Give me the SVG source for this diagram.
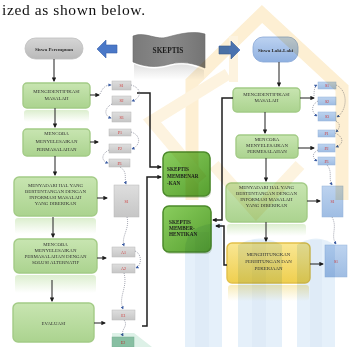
<svg xmlns="http://www.w3.org/2000/svg" width="363" height="347" viewBox="0 0 363 347">
  <defs>
    <linearGradient id="gL" x1="0" y1="0" x2="0" y2="1">
      <stop offset="0" stop-color="#c8e5b1"/>
      <stop offset="1" stop-color="#abd38f"/>
    </linearGradient>
    <linearGradient id="gC" x1="0" y1="0" x2="1" y2="1">
      <stop offset="0" stop-color="#8acd5e"/>
      <stop offset="1" stop-color="#57a030"/>
    </linearGradient>
    <linearGradient id="gY" x1="0" y1="0" x2="0" y2="1">
      <stop offset="0" stop-color="#f9e794"/>
      <stop offset="1" stop-color="#efcf4f"/>
    </linearGradient>
    <linearGradient id="gBs" x1="0" y1="0" x2="0" y2="1">
      <stop offset="0" stop-color="#bdd3ef"/>
      <stop offset="1" stop-color="#9fbde3"/>
    </linearGradient>
    <linearGradient id="gGs" x1="0" y1="0" x2="0" y2="1">
      <stop offset="0" stop-color="#dedede"/>
      <stop offset="1" stop-color="#c6c6c6"/>
    </linearGradient>
    <linearGradient id="gPillG" x1="0" y1="0" x2="0" y2="1">
      <stop offset="0" stop-color="#d6d6d6"/>
      <stop offset="1" stop-color="#b9b9b9"/>
    </linearGradient>
    <linearGradient id="gPillB" x1="0" y1="0" x2="0" y2="1">
      <stop offset="0" stop-color="#bcd2f1"/>
      <stop offset="1" stop-color="#8fb0e0"/>
    </linearGradient>
    <linearGradient id="gFlag" x1="0" y1="0" x2="1" y2="0">
      <stop offset="0" stop-color="#7a7a7a"/>
      <stop offset="0.5" stop-color="#8a8a8a"/>
      <stop offset="1" stop-color="#747474"/>
    </linearGradient>
    <linearGradient id="fadeG" x1="0" y1="0" x2="0" y2="1">
      <stop offset="0" stop-color="#d3eac2" stop-opacity="0.8"/>
      <stop offset="1" stop-color="#d3eac2" stop-opacity="0"/>
    </linearGradient>
    <linearGradient id="fadeY" x1="0" y1="0" x2="0" y2="1">
      <stop offset="0" stop-color="#f7e7a6" stop-opacity="0.8"/>
      <stop offset="1" stop-color="#f7e7a6" stop-opacity="0"/>
    </linearGradient>
    <linearGradient id="fadeK" x1="0" y1="0" x2="0" y2="1">
      <stop offset="0" stop-color="#d8d8d8" stop-opacity="0.8"/>
      <stop offset="1" stop-color="#d8d8d8" stop-opacity="0"/>
    </linearGradient>
    <marker id="arr" viewBox="0 0 10 10" refX="8" refY="5" markerWidth="4.5" markerHeight="4.5" markerUnits="userSpaceOnUse" orient="auto">
      <path d="M0,0 L10,5 L0,10 z" fill="#1e1e1e"/>
    </marker>
    <marker id="arrB" viewBox="0 0 10 10" refX="8" refY="5" markerWidth="3.2" markerHeight="3.2" markerUnits="userSpaceOnUse" orient="auto">
      <path d="M0,0 L10,5 L0,10 z" fill="#3a5ca3"/>
    </marker>
  </defs>
  <style>
    .t{font-family:"Liberation Serif","Times New Roman",serif;fill:#333;font-size:4.9px;text-anchor:middle}
    .tb{font-family:"Liberation Serif","Times New Roman",serif;fill:#1c1c1c;font-size:5.2px;font-weight:bold}
    .tl{font-family:"Liberation Serif","Times New Roman",serif;fill:#d03434;font-size:4px;text-anchor:middle}
    .tp{font-family:"Liberation Serif","Times New Roman",serif;fill:#2e2e2e;font-size:5px;font-weight:bold;text-anchor:middle}
    .bg{fill:url(#gL);stroke:#a3cb86;stroke-width:1.4}
    .bc{fill:url(#gC);stroke:#4c8a2b;stroke-width:1.5}
    .by{fill:url(#gY);stroke:#e2c04a;stroke-width:1.4}
    .sg{fill:url(#gGs);stroke:#b9b9b9;stroke-width:0.5}
    .sb{fill:url(#gBs);stroke:#95b3da;stroke-width:0.5}
    .ln{fill:none;stroke:#1e1e1e;stroke-width:1.5}
    .lv{fill:none;stroke:#333;stroke-width:1.1}
    .dl{fill:none;stroke:#7e8190;stroke-width:0.7;stroke-dasharray:1 1}
    .wm{mix-blend-mode:multiply}
  </style>

  <rect width="363" height="347" fill="#ffffff"/>

  <text x="2" y="15" font-family="Liberation Serif, Times New Roman, serif" font-size="15.5" fill="#111" textLength="143">ized as shown below.</text>

  <!-- reflections -->
  <g id="reflections">
    <rect x="24" y="110" width="65" height="12" rx="3" fill="url(#fadeG)"/>
    <rect x="15" y="218" width="81" height="16" rx="3" fill="url(#fadeG)"/>
    <rect x="15" y="275" width="81" height="18" rx="3" fill="url(#fadeG)"/>
    <rect x="227" y="224" width="79" height="12" rx="3" fill="url(#fadeG)"/>
    <rect x="228" y="285" width="81" height="16" rx="3" fill="url(#fadeY)"/>
    <path d="M134,64 C146,69 157,70 170,66 C182,63 193,65 204,70 L204,80 L134,80 Z" fill="url(#fadeK)"/>
  </g>

  <!-- headers -->
  <g id="siswa-perempuan">
    <rect x="25" y="38" width="58" height="21" rx="10.5" fill="url(#gPillG)" stroke="#bcbcbc" stroke-width="0.8"/>
    <text class="tp" x="54" y="50.5">Siswa Perempuan</text>
  </g>
  <g id="arrow-left">
    <polygon points="97,49 106,40 106,45 117,45 117,53 106,53 106,58" fill="#4a78c8" stroke="#3760aa" stroke-width="0.6"/>
  </g>
  <g id="skeptis">
    <path d="M133,36 C146,31 156,41 168,37 C182,33 194,31 205,34 L205,68 C193,63 182,61 170,64 C157,68 145,67 133,62 Z" fill="url(#gFlag)" stroke="#6c6c6c" stroke-width="0.6"/>
    <text x="168" y="52.5" font-family="Liberation Serif, Times New Roman, serif" font-size="7.3" font-weight="bold" fill="#1a1a1a" text-anchor="middle">SKEPTIS</text>
  </g>
  <g id="arrow-right">
    <polygon points="240,50 231,41 231,46 219,46 219,54 231,54 231,59" fill="#4a78c8" stroke="#3760aa" stroke-width="0.6"/>
  </g>
  <g id="siswa-laki-laki">
    <rect x="253" y="37" width="45" height="25" rx="10" fill="url(#gPillB)" stroke="#86a6d6" stroke-width="0.8"/>
    <text class="tp" x="275.5" y="51.5">Siswa Laki-Laki</text>
  </g>

  <!-- left column steps -->
  <g id="l-mengidentifikasi">
    <rect class="bg" x="23" y="83" width="67" height="25" rx="4"/>
    <text class="t" x="56.5" y="93">MENGIDENTIFIKASI</text>
    <text class="t" x="56.5" y="100">MASALAH</text>
  </g>
  <g id="l-mencoba">
    <rect class="bg" x="23" y="129" width="67" height="27" rx="4"/>
    <text class="t" x="56.5" y="135">MENCOBA</text>
    <text class="t" x="56.5" y="143">MENYELESAIKAN</text>
    <text class="t" x="56.5" y="151">PERMASALAHAN</text>
  </g>
  <g id="l-menyadari">
    <rect class="bg" x="14" y="177" width="83" height="39" rx="5"/>
    <text class="t" x="55.5" y="186.5">MENYADARI HAL YANG</text>
    <text class="t" x="55.5" y="192.5">BERTENTANGAN DENGAN</text>
    <text class="t" x="55.5" y="198.5">INFORMASI MASALAH</text>
    <text class="t" x="55.5" y="204.5">YANG DIBERIKAN</text>
  </g>
  <g id="l-alternatif">
    <rect class="bg" x="14" y="239" width="83" height="34" rx="5"/>
    <text class="t" x="55.5" y="245.5">MENCOBA</text>
    <text class="t" x="55.5" y="251.5">MENYELESAIKAN</text>
    <text class="t" x="55.5" y="257.5">PERMASALAHAN DENGAN</text>
    <text class="t" x="55.5" y="263.5">SOLUSI ALTERNATIF</text>
  </g>
  <g id="l-evaluasi">
    <rect class="bg" x="13" y="303" width="81" height="39" rx="5"/>
    <text class="t" x="53.5" y="324.5">EVALUASI</text>
  </g>

  <!-- left column labels -->
  <g id="l-s1"><rect class="sg" x="112" y="81" width="19" height="9"/><text class="tl" x="121.5" y="87">S1</text></g>
  <g id="l-s2"><rect class="sg" x="112" y="96" width="19" height="9"/><text class="tl" x="121.5" y="102">S2</text></g>
  <g id="l-s3"><rect class="sg" x="112" y="112" width="19" height="10"/><text class="tl" x="121.5" y="118.5">S3</text></g>
  <g id="l-p1"><rect class="sg" x="109" y="129" width="22" height="7"/><text class="tl" x="120" y="134">P1</text></g>
  <g id="l-p2"><rect class="sg" x="109" y="144" width="22" height="9"/><text class="tl" x="120" y="150">P2</text></g>
  <g id="l-p3"><rect class="sg" x="109" y="159" width="21" height="8"/><text class="tl" x="119.5" y="164.5">P3</text></g>
  <g id="l-si"><rect class="sg" x="114" y="185" width="25" height="32"/><text class="tl" x="126.5" y="202.5">S1</text></g>
  <g id="l-a1"><rect class="sg" x="112" y="247" width="23" height="10"/><text class="tl" x="123.5" y="253.5">A1</text></g>
  <g id="l-a2"><rect class="sg" x="112" y="264" width="23" height="9"/><text class="tl" x="123.5" y="270">A2</text></g>
  <g id="l-e1"><rect class="sg" x="112" y="310" width="23" height="10"/><text class="tl" x="123.5" y="316.5">E1</text></g>
  <g id="l-e2"><rect x="112" y="337" width="22" height="10" fill="#9ccab3" stroke="#86b8a0" stroke-width="0.5"/><text class="tl" x="123" y="344">E2</text></g>

  <!-- centre outcomes -->
  <g id="skeptis-membenarkan">
    <rect x="164" y="154" width="47" height="44" rx="6" fill="#3e6a24" opacity="0.25"/>
    <rect class="bc" x="163" y="152" width="47" height="44" rx="6"/>
    <text class="tb" x="167" y="171">SKEPTIS</text>
    <text class="tb" x="167" y="178">MEMBENAR</text>
    <text class="tb" x="167" y="185">-KAN</text>
  </g>
  <g id="skeptis-memberhentikan">
    <rect x="164" y="208" width="48" height="46" rx="6" fill="#3e6a24" opacity="0.25"/>
    <rect class="bc" x="163" y="206" width="48" height="46" rx="6"/>
    <text class="tb" x="169" y="224">SKEPTIS</text>
    <text class="tb" x="169" y="230">MEMBER-</text>
    <text class="tb" x="169" y="236">HENTIKAN</text>
  </g>

  <!-- right column steps -->
  <g id="r-mengidentifikasi">
    <rect class="bg" x="233" y="88" width="67" height="24" rx="4"/>
    <text class="t" x="266.5" y="95.5">MENGIDENTIFIKASI</text>
    <text class="t" x="266.5" y="102">MASALAH</text>
  </g>
  <g id="r-mencoba">
    <rect class="bg" x="236" y="135" width="62" height="23" rx="4"/>
    <text class="t" x="267" y="140.5">MENCOBA</text>
    <text class="t" x="267" y="146.5">MENYELESAIKAN</text>
    <text class="t" x="267" y="152.5">PERMESALAHAN</text>
  </g>
  <g id="r-menyadari">
    <rect class="bg" x="226" y="183" width="81" height="39" rx="5"/>
    <text class="t" x="266.5" y="188.5">MENYADARI HAL YANG</text>
    <text class="t" x="266.5" y="194.5">BERTENTANGAN DENGAN</text>
    <text class="t" x="266.5" y="200.5">INFORMASI MASALAH</text>
    <text class="t" x="266.5" y="206.5">YANG DIBERIKAN</text>
  </g>
  <g id="r-menghitung">
    <rect class="by" x="227" y="243" width="83" height="40" rx="5"/>
    <text class="t" x="268.5" y="256">MENGHITUNGKAN</text>
    <text class="t" x="268.5" y="263">PERHITUNGAN DAN</text>
    <text class="t" x="268.5" y="270">PEKERJAAN</text>
  </g>

  <!-- right column labels -->
  <g id="r-s1"><rect class="sb" x="318" y="82" width="18" height="7"/><text class="tl" x="327" y="87">S1</text></g>
  <g id="r-s2"><rect class="sb" x="318" y="97" width="18" height="8"/><text class="tl" x="327" y="102.5">S2</text></g>
  <g id="r-s3"><rect class="sb" x="318" y="112" width="18" height="9"/><text class="tl" x="327" y="118">S3</text></g>
  <g id="r-p1"><rect class="sb" x="318" y="130" width="17" height="7"/><text class="tl" x="326.5" y="135">P1</text></g>
  <g id="r-p2"><rect class="sb" x="318" y="144" width="17" height="8"/><text class="tl" x="326.5" y="149.5">P2</text></g>
  <g id="r-p3"><rect class="sb" x="318" y="157" width="17" height="8"/><text class="tl" x="326.5" y="162.5">P3</text></g>
  <g id="r-si"><rect class="sb" x="322" y="186" width="21" height="31"/><text class="tl" x="332.5" y="203">S1</text></g>
  <g id="r-hi"><rect class="sb" x="325" y="245" width="22" height="32"/><text class="tl" x="336" y="262.5">S1</text></g>

  <!-- connectors -->
  <g id="connectors">
    <!-- main flow, left -->
    <path class="lv" d="M54,59 V81" marker-end="url(#arr)"/>
    <path class="lv" d="M55,108 V127" marker-end="url(#arr)"/>
    <path class="lv" d="M55,156 V175" marker-end="url(#arr)"/>
    <path class="lv" d="M53,217 V237" marker-end="url(#arr)"/>
    <path class="lv" d="M52,280 V301" marker-end="url(#arr)"/>
    <!-- main flow, right -->
    <path class="lv" d="M279,62 V86" marker-end="url(#arr)"/>
    <path class="lv" d="M265,112 V133" marker-end="url(#arr)"/>
    <path class="lv" d="M266,158 V181" marker-end="url(#arr)"/>
    <path class="lv" d="M266,222 V241" marker-end="url(#arr)"/>
    <!-- steps to labels -->
    <path class="lv" d="M90,95 H99" marker-end="url(#arr)"/>
    <path class="lv" d="M90,142 H98" marker-end="url(#arr)"/>
    <path class="lv" d="M97,198 H107" marker-end="url(#arr)"/>
    <path class="lv" d="M97,258 H106" marker-end="url(#arr)"/>
    <path class="lv" d="M94,323 H105" marker-end="url(#arr)"/>
    <path class="lv" d="M300,98 H314" marker-end="url(#arr)"/>
    <path class="lv" d="M298,148 H314" marker-end="url(#arr)"/>
    <path class="lv" d="M307,201 H320" marker-end="url(#arr)"/>
    <path class="lv" d="M310,264 H323" marker-end="url(#arr)"/>
    <!-- outcomes -->
    <path class="ln" d="M137,93 H150 V167 H161" marker-end="url(#arr)"/>
    <path class="ln" d="M142,326 H147 V177 H161" marker-end="url(#arr)"/>
    <path class="ln" d="M233,98 H222 V220 H213" marker-end="url(#arr)"/>
    <path class="ln" d="M227,265 H224 V226 H216" marker-end="url(#arr)"/>
    <!-- label chains, left -->
    <path class="dl" d="M100,94 C103,87 106,85 111,85" marker-end="url(#arrB)"/>
    <path class="dl" d="M131,85 C142,88 142,98 132,101" marker-end="url(#arrB)"/>
    <path class="dl" d="M112,104 C104,108 104,116 111,118" marker-end="url(#arrB)"/>
    <path class="dl" d="M131,132 C141,135 141,145 132,149" marker-end="url(#arrB)"/>
    <path class="dl" d="M109,150 C101,154 101,161 108,163" marker-end="url(#arrB)"/>
    <path class="dl" d="M120,167 C128,172 124,178 126,184" marker-end="url(#arrB)"/>
    <path class="dl" d="M127,217 C130,229 121,236 124,246" marker-end="url(#arrB)"/>
    <path class="dl" d="M135,251 C142,254 142,265 136,268" marker-end="url(#arrB)"/>
    <path class="dl" d="M124,273 C128,288 118,296 123,309" marker-end="url(#arrB)"/>
    <path class="dl" d="M124,320 C129,326 120,330 123,336" marker-end="url(#arrB)"/>
    <!-- label chains, right -->
    <path class="dl" d="M314,96 C314,89 315,86 317,85" marker-end="url(#arrB)"/>
    <path class="dl" d="M336,85 C348,90 348,110 337,117" marker-end="url(#arrB)"/>
    <path class="dl" d="M318,101 C311,105 311,112 317,116" marker-end="url(#arrB)"/>
    <path class="dl" d="M336,121 C341,124 340,128 336,132" marker-end="url(#arrB)"/>
    <path class="dl" d="M335,133 C344,137 344,144 336,147" marker-end="url(#arrB)"/>
    <path class="dl" d="M318,150 C312,153 312,158 317,161" marker-end="url(#arrB)"/>
    <path class="dl" d="M327,165 C333,172 328,178 332,185" marker-end="url(#arrB)"/>
    <path class="dl" d="M332,217 C338,228 330,235 336,244" marker-end="url(#arrB)"/>
  </g>

  <!-- background emblem, printed over the page -->
  <g id="emblem" class="wm" opacity="0.6">
    <path d="M192,200 V82 L262,14 L342,88 V200" fill="none" stroke="#fbe4b6" stroke-width="13" stroke-linejoin="miter"/>
    <path d="M228,74 L152,121 L202,180" fill="none" stroke="#fcebc9" stroke-width="12"/>
    <path d="M214,165 L256,212 L300,165" fill="none" stroke="#fcebc9" stroke-width="12"/>
    <rect x="229" y="36" width="9" height="46" fill="#fcebc9"/>
    <path d="M185,347 V250 Q185,223 222,223 V347 Z" fill="#d4e6f6"/>
    <rect x="195" y="232" width="14" height="115" fill="#c9def1"/>
    <path d="M238,347 V245 Q260,232 282,245 V347 Z" fill="#d4e6f6"/>
    <rect x="252" y="240" width="14" height="107" fill="#c9def1"/>
    <path d="M297,347 V245 Q316,232 335,245 V347 Z" fill="#d4e6f6"/>
    <rect x="310" y="240" width="12" height="107" fill="#c9def1"/>
    <path d="M112,333 L134,333 L152,347 L112,347 Z" fill="#c6e7d7"/>
  </g>
</svg>
